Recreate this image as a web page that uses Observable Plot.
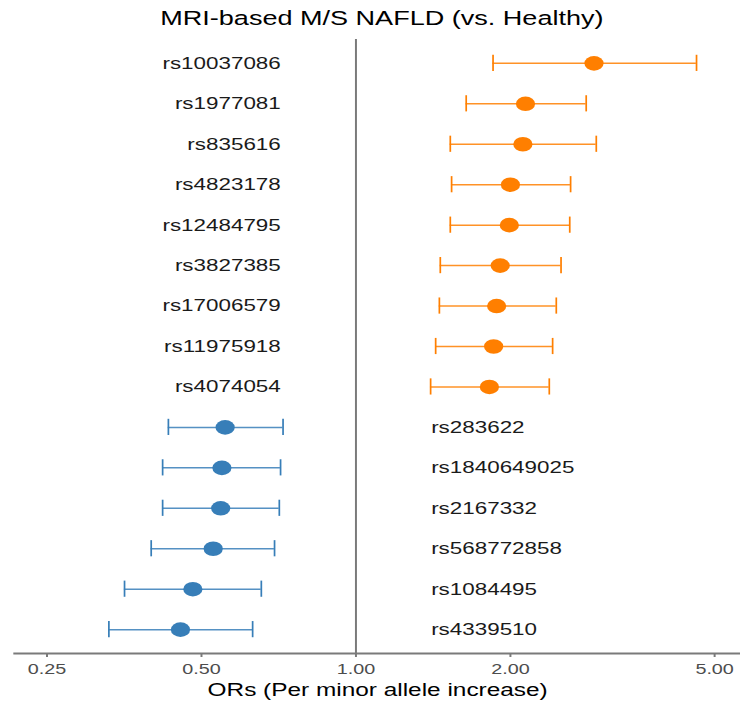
<!DOCTYPE html>
<html><head><meta charset="utf-8">
<script src="https://cdn.jsdelivr.net/npm/d3@7"></script>
<script src="https://cdn.jsdelivr.net/npm/@observablehq/plot@0.6"></script>
<style>
html,body{margin:0;padding:0;background:#fff;}
#wrap{width:561px;transform:scaleX(1.3191);transform-origin:0 0;}
#title{height:36px;line-height:36px;font-size:20.5px;font-family:"Liberation Sans",Arial,sans-serif;color:#000;text-align:center;padding-left:18px;box-sizing:border-box;width:561px;}
</style></head><body>
<div id="wrap"><div id="title">MRI-based M/S NAFLD (vs. Healthy)</div><div id="chart"></div></div>
<script>
const snps = ["rs10037086","rs1977081","rs835616","rs4823178","rs12484795","rs3827385","rs17006579","rs11975918","rs4074054","rs283622","rs1840649025","rs2167332","rs568772858","rs1084495","rs4339510"];
const ors   = [2.91,2.14,2.115,2.00,1.99,1.91,1.88,1.855,1.82,0.556,0.548,0.545,0.527,0.481,0.455];
const lower = [1.85,1.64,1.527,1.536,1.527,1.46,1.454,1.43,1.398,0.431,0.420,0.420,0.399,0.354,0.330];
const upper = [4.61,2.81,2.94,2.62,2.61,2.51,2.457,2.417,2.381,0.721,0.713,0.709,0.694,0.654,0.629];
const xTicks = [0.25,0.5,1,2,5];
const xTitle = "ORs (Per minor allele increase)";
const orange = "#FF7F00", blue = "#377EB8";

const rows = snps.map((s,i)=>({snp:s, or:ors[i], lo:lower[i], hi:upper[i], up: ors[i] > 1}));
const col = d => d.up ? orange : blue;
const font = '"Liberation Sans", Arial, sans-serif';

const chart = Plot.plot({
  width: 561, height: 666,
  marginTop: 3, marginBottom: 49, marginLeft: 10.6, marginRight: 0,
  x: {type: "log", domain: [0.2162, 5.62]},
  y: {domain: snps, paddingInner: 0.6, paddingOuter: 0.39, round: false, axis: null},
  style: {fontFamily: font, fontSize: "15px", background: "white", color: "#4d4d4d", overflow: "visible"},
  marks: [
    Plot.ruleX([1], {stroke: "#7a7a7a", strokeWidth: 1.5}),
    Plot.frame({anchor: "bottom", stroke: "#7a7a7a", strokeWidth: 2}),
    Plot.axisX({ticks: xTicks, tickFormat: d3.format(".2f"), tickSize: 4, tickPadding: 5.5, stroke: "#7a7a7a", strokeWidth: 1.5, fill: "#4d4d4d", fontSize: 15, label: null}),
    Plot.ruleY(rows, {y: "snp", x1: "lo", x2: "hi", stroke: col, strokeWidth: 1.5, strokeOpacity: 0.85}),
    Plot.tickX(rows, {y: "snp", x: "lo", stroke: col, strokeWidth: 1.3}),
    Plot.tickX(rows, {y: "snp", x: "hi", stroke: col, strokeWidth: 1.3}),
    Plot.dot(rows, {y: "snp", x: "or", r: 7.3, fill: col, stroke: "none"}),
    Plot.text(rows.filter(d => d.up), {y: "snp", x: () => 1, text: "snp", dx: -57, textAnchor: "end", fontSize: 17, fill: "#1a1a1a"}),
    Plot.text(rows.filter(d => !d.up), {y: "snp", x: () => 1, text: "snp", dx: 57, textAnchor: "start", fontSize: 17, fill: "#1a1a1a"}),
    Plot.text([xTitle], {text: d => d, frameAnchor: "bottom", dy: 42, fontSize: 18.5, fill: "#000"})
  ]
});
document.getElementById("chart").appendChild(chart);
</script>
</body></html>
